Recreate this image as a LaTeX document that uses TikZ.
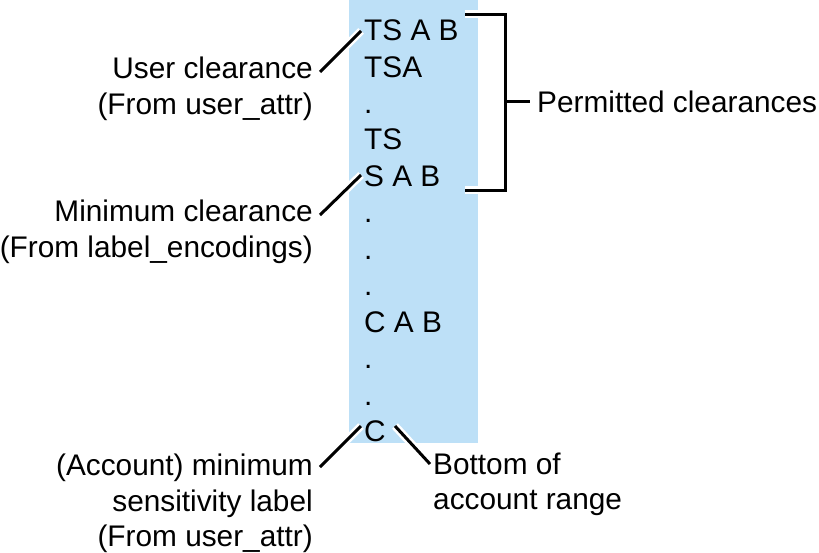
\documentclass[tikz,border=0pt]{standalone}
\usepackage{fontspec}
\setmainfont{Liberation Sans}
\definecolor{colblue}{RGB}{189,224,247}
\begin{document}
\begin{tikzpicture}[x=1pt,y=-1pt,
  txt/.style={inner sep=0pt,font=\fontsize{29.8}{36}\selectfont},
  lw/.style={txt,anchor=base west},
  le/.style={txt,anchor=base east},
  lead/.style={line width=3pt,preaction={draw=white,line width=8pt}},
  brk/.style={line width=3pt}]
\useasboundingbox (0,0) rectangle (819,552);
\fill[colblue] (349,0) rectangle (478,443);
% column
\node[lw] (l1) at (364,40) {TS A B};
\node[lw] (l2) at (364,77) {TSA};
\node[lw] (l3) at (364,113) {.};
\node[lw] (l4) at (364,149) {TS};
\node[lw] (l5) at (364,186) {S A B};
\node[lw] (l6) at (364,222) {.};
\node[lw] (l7) at (364,259) {.};
\node[lw] (l8) at (364,295) {.};
\node[lw] (l9) at (364,332) {C A B};
\node[lw] (l10) at (364,368) {.};
\node[lw] (l11) at (364,405) {.};
\node[lw] (l12) at (364,441) {C};
% left labels
\node[le] (u1) at (313,78) {User clearance};
\node[le] (u2) at (313,114) {(From user\_attr)};
\node[le] (m1) at (313,221) {Minimum clearance};
\node[le] (m2) at (313,257) {(From label\_encodings)};
\node[le] (a1) at (313,475) {(Account) minimum};
\node[le] (a2) at (313,511) {sensitivity label};
\node[le] (a3) at (313,546) {(From user\_attr)};
% right labels
\node[lw] (b1) at (433,474) {Bottom of};
\node[lw] (b2) at (433,509) {account range};
\node[lw] (p1) at (537,112) {Permitted clearances};
% leader coordinates
\coordinate (ua) at (320,72);
\coordinate (ub) at (361,31);
\coordinate (ma) at (320,215);
\coordinate (mb) at (361,175);
\coordinate (aa) at (320,467);
\coordinate (ab) at (361,426);
\coordinate (ba) at (430,464);
\coordinate (bb) at (395,426);
\draw[lead] (ua) -- (ub);
\draw[lead] (ma) -- (mb);
\draw[lead] (aa) -- (ab);
\draw[lead] (ba) -- (bb);
% bracket
\coordinate (t0) at (465,14);
\coordinate (t1) at (505,14);
\coordinate (t2) at (505,190);
\coordinate (t3) at (465,190);
\coordinate (tm) at (505,101);
\coordinate (tp) at (530,101);
\draw[brk,preaction={draw=white,line width=8pt}] (t0) -- (t1) -- (t2) -- (t3);
\draw[brk] (tm) -- (tp);
\end{tikzpicture}
\end{document}
